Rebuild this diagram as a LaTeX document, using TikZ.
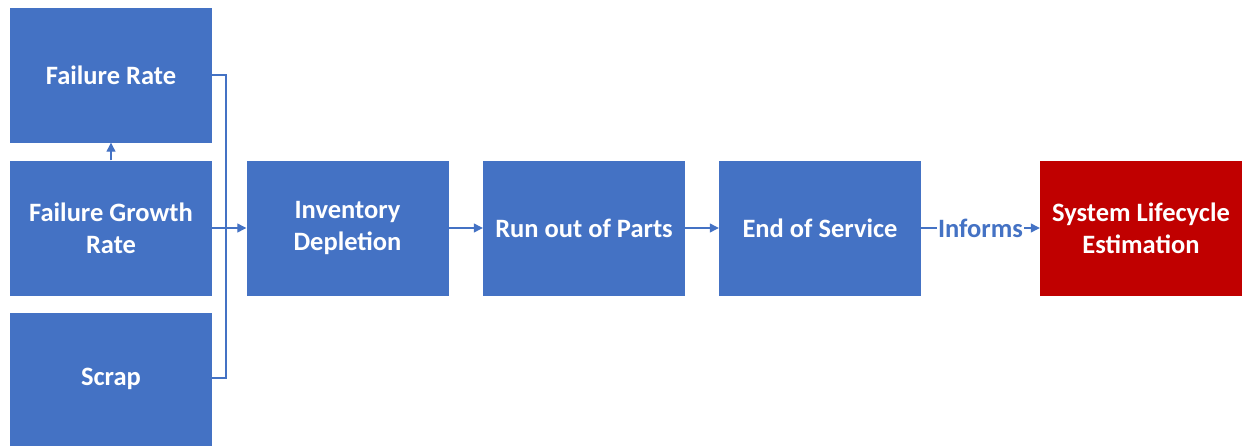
\documentclass[tikz,border=0pt]{standalone}
\usepackage{fontspec}
\setmainfont{Carlito}
\usetikzlibrary{arrows.meta}
\definecolor{boxblue}{HTML}{4472C4}
\definecolor{boxred}{HTML}{C00000}
\tikzset{
  blk/.style={draw=none, fill=boxblue, rectangle, minimum width=202pt, minimum height=135pt,
    text=white, font=\bfseries\fontsize{26.5}{32}\selectfont, align=center},
  redblk/.style={blk, fill=boxred},
  link/.style={draw=boxblue, line width=1.2pt, -{Triangle[length=9pt,width=9pt]}}
}
\begin{document}
\begin{tikzpicture}[x=1pt, y=-1pt]
\useasboundingbox (0,0) rectangle (1243,445);
\node[blk] (rate) at (111,75) {Failure Rate};
\node[blk] (growth) at (111,228) {Failure Growth\\Rate};
\node[blk, minimum height=133pt] (scrap) at (111,379) {Scrap};

\node[blk] (inv) at (347.5,228) {Inventory\\Depletion};
\node[blk] (parts) at (584,228) {Run out of Parts};
\node[blk] (eos) at (820,228) {End of Service};
\node[redblk] (sle) at (1141,228) {System Lifecycle\\Estimation};

\coordinate (jtop) at (226,75);
\coordinate (jbot) at (226,378);

\draw[link] (growth) -- (rate);
\draw[link] (growth) -- (inv);
\draw[draw=boxblue, line width=1.2pt] (rate.east) -- (jtop) -- (jbot) -- (scrap.east |- jbot);
\draw[link] (inv) -- (parts);
\draw[link] (parts) -- (eos);
\draw[link] (eos) -- node[fill=white, inner sep=1pt, text=boxblue, font=\bfseries\fontsize{26.5}{30}\selectfont] (inf) {Informs} (sle);
\end{tikzpicture}
\end{document}
